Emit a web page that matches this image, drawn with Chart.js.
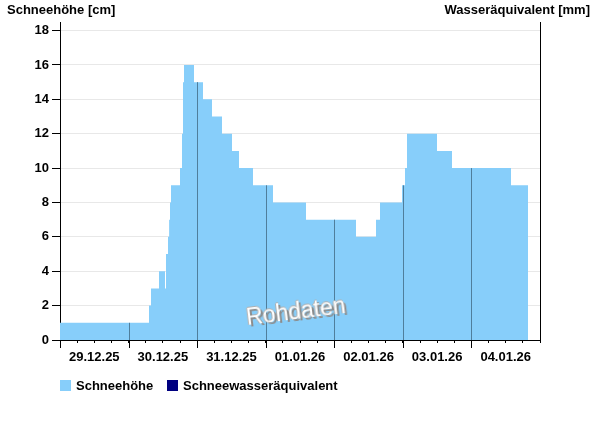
<!DOCTYPE html>
<html>
<head>
<meta charset="utf-8">
<script src="https://cdn.jsdelivr.net/npm/chart.js"></script>
<style>
body{margin:0;background:#fff;}
#wrap{position:relative;width:600px;height:426px;font-family:"Liberation Sans",Arial,sans-serif;font-weight:bold;font-size:13px;color:#000;}
#wrap canvas{position:absolute;left:0;top:0;}
.t{position:absolute;white-space:nowrap;line-height:16px;}
.box{display:inline-block;width:11px;height:11px;vertical-align:-1px;margin-right:5px;}
#wm{position:absolute;left:246px;top:298px;font-weight:normal;font-size:23px;color:#fff;text-shadow:2px 2px 0 #8c8c8c,-1px 0 0 #b0b0b0,0 -1px 0 #b0b0b0;transform:rotate(-7deg);transform-origin:50% 50%;}
</style>
</head>
<body>
<div id="wrap">
  <canvas id="myChart" width="600" height="426"></canvas>
  <div class="t" style="left:7px;top:2px">Schneehöhe [cm]</div>
  <div class="t" style="right:10px;top:2px">Wasseräquivalent [mm]</div>
  <div id="wm">Rohdaten</div>
  <div class="t" style="left:60px;top:378px"><span class="box" style="background:#87cefa"></span>Schneehöhe</div>
  <div class="t" style="left:167px;top:378px"><span class="box" style="background:#000080"></span>Schneewasseräquivalent</div>
</div>
<script>
var dayLabels = ["29.12.25","30.12.25","31.12.25","01.01.26","02.01.26","03.01.26","04.01.26"];
// Stunden seit 29.12.25 00:00, Wert gilt bis zum naechsten Zeitpunkt
var hours = [0, 31.15, 31.85, 34.65, 36.75, 37.1, 37.8, 38.2, 38.5, 38.85, 42, 42.7, 43.05, 43.4, 46.9, 50.05, 53.2, 56.7, 60.2, 62.65, 67.55, 74.55, 86.1, 103.6, 110.6, 112, 119.7, 120.75, 121.45, 131.95, 137.2, 157.85, 163.8];
var snow = [1, 2, 3, 4, 3, 5, 6, 7, 8, 9, 10, 12, 15, 16, 15, 14, 13, 12, 11, 10, 9, 8, 7, 6, 7, 8, 9, 10, 12, 11, 10, 9, 9];
var swe = []; // keine Werte
var yTicks = [0, 2, 4, 6, 8, 10, 12, 14, 16, 18];

var snowPts = hours.map(function(h, i){ return {x: h, y: snow[i]}; });

// Tagesgrenzen: dunkle Linie bis zur Schneehoehe + lange Tickmarke
var dayLines = {
  id: 'dayLines',
  afterDatasetsDraw: function(chart){
    var ctx = chart.ctx, xs = chart.scales.x, ys = chart.scales.y;
    var bottom = ys.getPixelForValue(0);
    ctx.save();
    ctx.lineWidth = 1;
    for (var d = 0; d < dayLabels.length; d++){
      var px = Math.round(xs.getPixelForValue(d * 24)) + 0.5;
      if (d > 0 && d * 24 <= hours[hours.length - 1]){
        var v = 0;
        for (var i = 0; i < hours.length; i++) if (hours[i] <= d * 24) v = snow[i];
        ctx.strokeStyle = '#4f7e9c';
        ctx.beginPath();
        ctx.moveTo(px, bottom);
        ctx.lineTo(px, ys.getPixelForValue(v));
        ctx.stroke();
      }
      ctx.strokeStyle = '#000';
      ctx.beginPath();
      ctx.moveTo(px, Math.round(bottom));
      ctx.lineTo(px, Math.round(bottom) + 8);
      ctx.stroke();
    }
    ctx.restore();
  }
};

var charts = document.querySelector("#myChart").getContext('2d');
new Chart(charts, {
  type: 'line',
  data: {
    datasets: [{
      label: "Schneehöhe",
      data: snowPts,
      stepped: true,
      fill: 'origin',
      backgroundColor: '#87cefa',
      borderColor: '#87cefa',
      borderWidth: 0,
      pointRadius: 0,
      yAxisID: 'y'
    }, {
      label: "Schneewasseräquivalent",
      data: swe,
      borderColor: '#000080',
      backgroundColor: '#000080',
      pointRadius: 0,
      yAxisID: 'y1'
    }]
  },
  options: {
    responsive: false,
    animation: false,
    devicePixelRatio: 1,
    layout: { padding: { top: 22, bottom: 61, left: 0, right: 0 } },
    plugins: { legend: { display: false }, tooltip: { enabled: false } },
    scales: {
      x: {
        type: 'linear',
        min: 0,
        max: 168,
        afterFit: function(s){ s.height = 25; },
        border: { display: true, color: '#000', width: 1 },
        grid: { drawOnChartArea: false, drawTicks: true, tickLength: 3, tickColor: '#000' },
        ticks: {
          stepSize: 6,
          autoSkip: false,
          maxRotation: 0,
          padding: 7,
          color: '#000',
          font: { family: 'Liberation Sans', size: 13, weight: 'bold' },
          callback: function(v){ return (v % 24 === 12) ? dayLabels[(v - 12) / 24] : ''; }
        }
      },
      y: {
        position: 'left',
        min: 0,
        max: 18.5,
        afterFit: function(s){ s.width = 60; },
        border: { display: true, color: '#000', width: 1 },
        grid: { color: '#e8e8e8', tickColor: '#000', tickLength: 8 },
        ticks: {
          stepSize: 2,
          includeBounds: false,
          padding: 3,
          color: '#000',
          font: { family: 'Liberation Sans', size: 13, weight: 'bold' },
          callback: function(v){ return yTicks.indexOf(v) >= 0 ? v : ''; }
        }
      },
      y1: {
        position: 'right',
        min: 0,
        max: 1,
        afterFit: function(s){ s.width = 60; },
        border: { display: true, color: '#000', width: 1 },
        grid: { drawOnChartArea: false, drawTicks: false },
        ticks: { display: false }
      }
    }
  },
  plugins: [dayLines]
});
</script>
</body>
</html>
